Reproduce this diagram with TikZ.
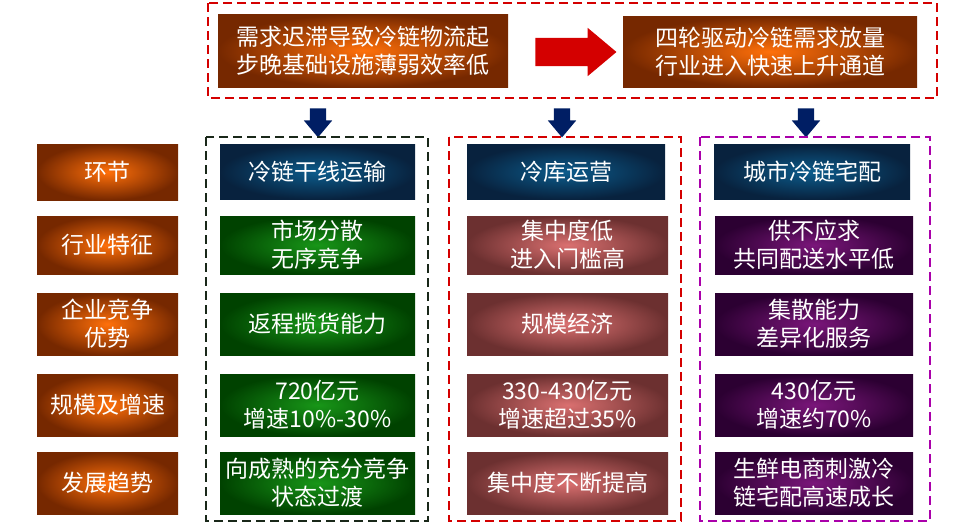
\documentclass[tikz,border=0pt]{standalone}
\usepackage{fontspec}
\setmainfont{Noto Sans CJK SC}
\usetikzlibrary{shapes.arrows, positioning}

\definecolor{orangein}{RGB}{255,112,10}
\definecolor{orangeout}{RGB}{118,40,0}
\definecolor{bluein}{RGB}{12,92,140}
\definecolor{blueout}{RGB}{8,34,62}
\definecolor{greenin}{RGB}{24,150,24}
\definecolor{greenout}{RGB}{0,66,0}
\definecolor{rosein}{RGB}{218,112,112}
\definecolor{roseout}{RGB}{108,48,48}
\definecolor{purplein}{RGB}{122,22,122}
\definecolor{purpleout}{RGB}{44,0,50}
\definecolor{navyarrow}{RGB}{0,30,100}
\definecolor{redarrow}{RGB}{212,0,0}
\definecolor{frameblack}{RGB}{25,40,25}
\definecolor{framered}{RGB}{212,0,0}
\definecolor{framepurple}{RGB}{170,0,170}

\begin{document}
\begin{tikzpicture}[x=1pt, y=-1pt]
        \tikzstyle{box} = [rectangle, text=white, align=center, inner sep=0pt, font=\fontsize{23}{28}\selectfont]
        \tikzstyle{orangebox} = [box, inner color=orangein, outer color=orangeout]
        \tikzstyle{bluebox} = [box, inner color=bluein, outer color=blueout, minimum height=55pt]
        \tikzstyle{greenbox} = [box, inner color=greenin, outer color=greenout, minimum width=195pt]
        \tikzstyle{rosebox} = [box, inner color=rosein, outer color=roseout, minimum width=201pt]
        \tikzstyle{purplebox} = [box, inner color=purplein, outer color=purpleout, minimum width=198pt]
        \tikzstyle{label} = [orangebox, minimum width=141pt]
        \tikzstyle{frame} = [line width=1.7pt, dash pattern=on 9pt off 5pt]
        \tikzstyle{downarrow} = [single arrow, shape border rotate=270, fill=navyarrow, inner sep=8pt, single arrow head extend=6pt, single arrow tip angle=80, minimum height=29pt]
        \useasboundingbox (0,0) rectangle (970,530);

        % top part
        \draw [frame, framered] (208,3) rectangle (937,98);
        \node (cause) [orangebox, minimum width=290pt, minimum height=73pt] at (363,50.5) {
            需求迟滞导致冷链物流起 \\
            步晚基础设施薄弱效率低
        };
        \node (effect) [orangebox, minimum width=294pt, minimum height=71pt] at (770,51.5) {
            四轮驱动冷链需求放量 \\
            行业进入快速上升通道
        };
        \node (pusharrow) [single arrow, fill=redarrow, inner sep=14pt, single arrow head extend=10pt, single arrow tip angle=80, minimum height=81pt] at (567.5,52) {};

        \node (down1) [downarrow] at (318,118) {};
        \node (down2) [downarrow] at (562,118) {};
        \node (down3) [downarrow] at (806,118) {};

        % column frames
        \draw [frame, frameblack] (206,137) rectangle (428,521);
        \draw [frame, framered] (449,137) rectangle (681,521);
        \draw [frame, framepurple] (700,137) rectangle (930,521);

        % row labels
        \node (stage) [label, minimum height=56pt] at (107.5,172) {环节};
        \node (feature) [label, minimum height=58pt] at (107.5,245) {行业特征};
        \node (advantage) [label, minimum height=62pt] at (107.5,324) {企业竞争 \\ 优势};
        \node (scale) [label, minimum height=62pt] at (107.5,405) {规模及增速};
        \node (trend) [label, minimum height=62pt] at (107.5,483) {发展趋势};

        % trunk transport
        \node (trunk) [bluebox, minimum width=195pt] at (317.5,172) {冷链干线运输};
        \node (trunkfeature) [greenbox, minimum height=58pt] at (317.5,245) {市场分散 \\ 无序竞争};
        \node (trunkadvantage) [greenbox, minimum height=62pt] at (317.5,324) {返程揽货能力};
        \node (trunkscale) [greenbox, minimum height=62pt] at (317.5,405) {720亿元 \\ 增速10\%-30\%};
        \node (trunktrend) [greenbox, minimum height=62pt] at (317.5,483) {向成熟的充分竞争 \\ 状态过渡};

        % cold storage
        \node (store) [bluebox, minimum width=198pt] at (566,172) {冷库运营};
        \node (storefeature) [rosebox, minimum height=58pt] at (567.5,245) {集中度低 \\ 进入门槛高};
        \node (storeadvantage) [rosebox, minimum height=62pt] at (567.5,324) {规模经济};
        \node (storescale) [rosebox, minimum height=62pt] at (567.5,405) {330-430亿元 \\ 增速超过35\%};
        \node (storetrend) [rosebox, minimum height=62pt] at (567.5,483) {集中度不断提高};

        % city delivery
        \node (deliver) [bluebox, minimum width=196pt] at (812,172) {城市冷链宅配};
        \node (deliverfeature) [purplebox, minimum height=58pt] at (814,245) {供不应求 \\ 共同配送水平低};
        \node (deliveradvantage) [purplebox, minimum height=62pt] at (814,324) {集散能力 \\ 差异化服务};
        \node (deliverscale) [purplebox, minimum height=62pt] at (814,405) {430亿元 \\ 增速约70\%};
        \node (delivertrend) [purplebox, minimum height=62pt] at (814,483) {生鲜电商刺激冷 \\ 链宅配高速成长};
    \end{tikzpicture}
\end{document}
